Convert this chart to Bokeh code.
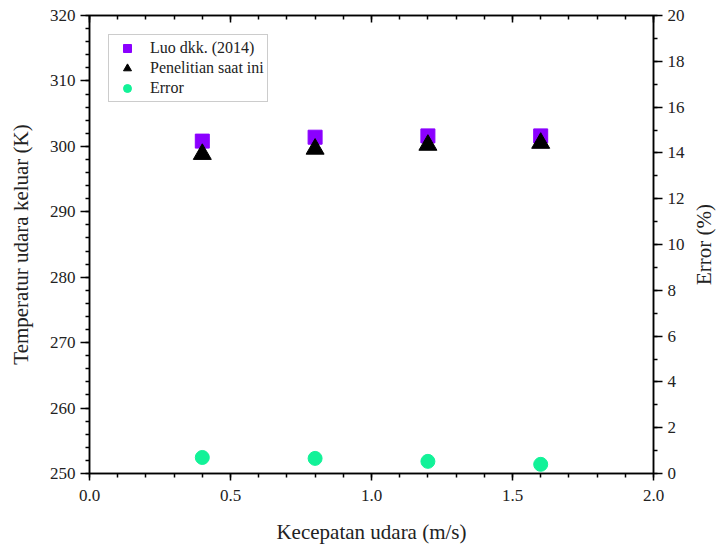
from bokeh.plotting import figure
from bokeh.layouts import row
from bokeh.models import (Range1d, LinearAxis, SingleIntervalTicker, Legend, LegendItem,
                          CustomJSTickFormatter)
from bokeh.core.properties import value
from bokeh.embed import file_html
from bokeh.resources import INLINE

speed = [0.4, 0.8, 1.2, 1.6]
luo = [300.8, 301.4, 301.6, 301.6]
present = [298.8, 299.6, 300.2, 300.5]
error = [0.70, 0.66, 0.53, 0.40]

FONT = "'Liberation Serif', 'Times New Roman', serif"
TXT = "#222222"
H = 547
TOP, BOTTOM = 15, 74

p = figure(width=688, height=H, output_backend="svg", toolbar_location=None,
           x_range=Range1d(0, 2.0), y_range=Range1d(250, 320),
           min_border_left=89, min_border_right=35, min_border_top=TOP, min_border_bottom=BOTTOM)
p.extra_y_ranges = {"err": Range1d(0, 20)}
p.xgrid.visible = False
p.ygrid.visible = False
p.outline_line_color = "black"
p.outline_line_width = 1.5

sq = p.scatter(speed, luo, marker="square", size=14, fill_color="#8B00FF", line_color="#8B00FF")
tr = p.scatter(speed, present, marker="triangle", size=18, fill_color="black", line_color="black")
ci = p.scatter(speed, error, marker="circle", size=14, fill_color="#12F298", line_color="#12F298",
               y_range_name="err")

bottom = p.below[0]
left = p.left[0]
right = LinearAxis(y_range_name="err")
p.add_layout(right, "right")
top_axis = LinearAxis()
p.add_layout(top_axis, "above")

for ax in (bottom, left, right, top_axis):
    ax.major_label_text_font = FONT
    ax.major_label_text_font_size = "17px"
    ax.major_label_text_color = TXT
    ax.major_label_standoff = 5
    ax.axis_label_text_font = FONT
    ax.axis_label_text_font_size = "21px"
    ax.axis_label_text_font_style = "normal"
    ax.axis_label_text_color = TXT
    ax.axis_line_color = "black"
    ax.axis_line_width = 1.5
    ax.major_tick_line_color = "black"
    ax.minor_tick_line_color = "black"
    ax.major_tick_line_width = 1.5
    ax.minor_tick_line_width = 1.5
    ax.major_tick_out = 9
    ax.major_tick_in = 0
    ax.minor_tick_out = 4
    ax.minor_tick_in = 0

# bottom axis
bottom.ticker = SingleIntervalTicker(interval=0.5, num_minor_ticks=5)
bottom.major_tick_out = 7
bottom.axis_label = "Kecepatan udara (m/s)"
bottom.axis_label_standoff = 16
bottom.major_label_standoff = 9
bottom.formatter = CustomJSTickFormatter(code="return tick.toFixed(1);")

# top frame axis: ticks only, pointing inward
top_axis.ticker = SingleIntervalTicker(interval=0.5, num_minor_ticks=5)
top_axis.formatter = CustomJSTickFormatter(code="return '';")
top_axis.major_label_text_font_size = "1px"
top_axis.major_label_standoff = 0
top_axis.major_tick_out = 0
top_axis.major_tick_in = 7
top_axis.minor_tick_out = 0
top_axis.minor_tick_in = 4

# left axis
left.ticker = SingleIntervalTicker(interval=10, num_minor_ticks=5)
left.axis_label = "Temperatur udara keluar (K)"
left.axis_label_standoff = 14

# right axis
right.ticker = SingleIntervalTicker(interval=2, num_minor_ticks=2)

legend = Legend(items=[
    LegendItem(label="Luo dkk. (2014)", renderers=[sq]),
    LegendItem(label="Penelitian saat ini", renderers=[tr]),
    LegendItem(label="Error", renderers=[ci]),
], location="top_left")
legend.margin = 19
legend.padding = 3
legend.spacing = 0
legend.label_text_font = FONT
legend.label_text_font_size = "16px"
legend.label_text_color = TXT
legend.label_height = 19
legend.glyph_height = 20
legend.glyph_width = 30
legend.label_standoff = 8
legend.border_line_color = "#999999"
legend.border_line_width = 1
legend.background_fill_alpha = 1
p.add_layout(legend)

# right-hand axis title panel sharing the error scale
p2 = figure(width=30, height=H, output_backend="svg", toolbar_location=None,
            x_range=Range1d(0, 1), y_range=p.extra_y_ranges["err"],
            min_border_left=0, min_border_right=0, min_border_top=TOP, min_border_bottom=BOTTOM)
p2.axis.visible = False
p2.grid.visible = False
p2.outline_line_color = None
p2.text(x=[0.5], y=[10], text=["Error (%)"], angle=90, angle_units="deg",
        text_font=value(FONT), text_font_size="21px", text_color=TXT,
        text_align="center", text_baseline="middle")

layout = row(p, p2, spacing=0)
open("out.html", "w").write(file_html(layout, INLINE))
